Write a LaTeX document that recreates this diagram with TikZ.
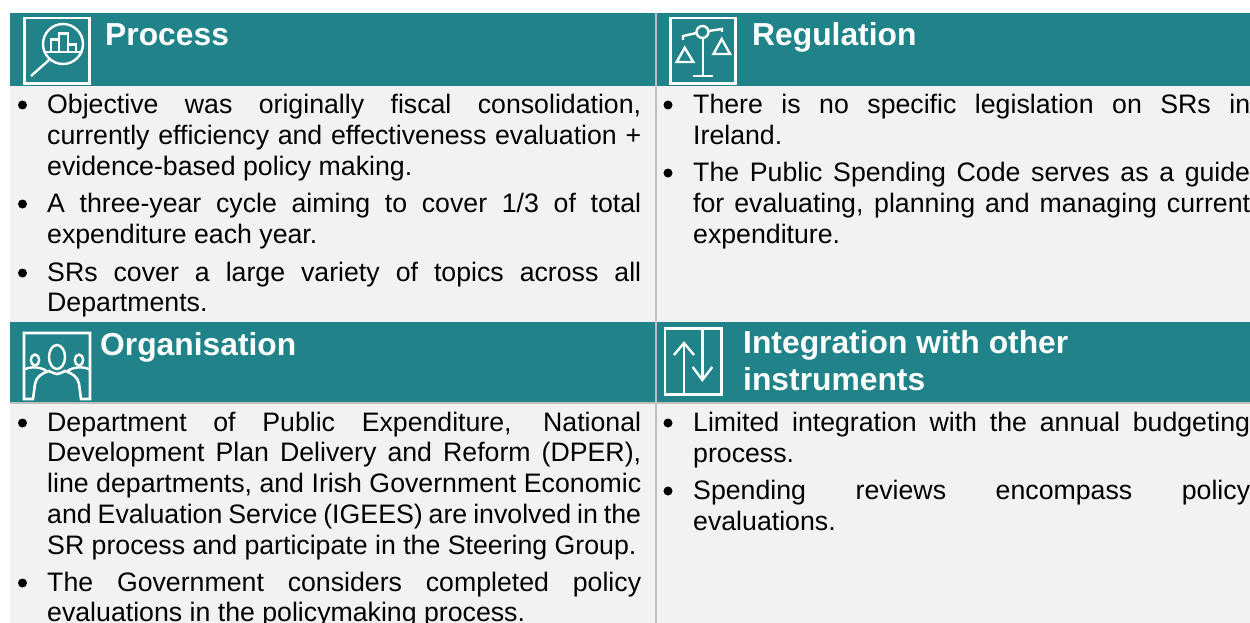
\documentclass[tikz,border=0pt]{standalone}
\usepackage{fontspec}
\setmainfont{Liberation Sans}
\definecolor{teal1}{HTML}{1F8389}
\definecolor{panel}{HTML}{F2F2F2}
\definecolor{rulegrey}{HTML}{BFBFBF}
\newcommand{\bodyfont}{\fontsize{26.7}{30.8}\selectfont}
\newcommand{\titlefont}{\fontsize{31.8}{37}\selectfont\bfseries}
\newcommand{\parL}[1]{\parbox[t]{594pt}{\bodyfont\hbadness=10000\hfuzz=20pt #1}}
\newcommand{\parR}[1]{\parbox[t]{557pt}{\bodyfont\hbadness=10000\hfuzz=20pt #1}}
\tikzset{
  x=1pt,y=-1pt,
  body/.style={anchor=base west,inner sep=0pt,text=black},
  title/.style={anchor=base west,inner sep=0pt,text=white,font=\titlefont},
  bul/.style={fill=black,draw=none},
  ico/.style={draw=white,line width=2.4pt,line join=miter},
  icof/.style={draw=white,line width=2.8pt}
}
\begin{document}
\begin{tikzpicture}
\useasboundingbox (0,0) rectangle (1250,623);
\fill[white] (0,0) rectangle (1250,623);
% panels
\fill[panel] (10,85) rectangle (1250,623);
\fill[teal1] (10,13) rectangle (1250,86);
\fill[teal1] (10,322) rectangle (1250,402);
\fill[rulegrey] (10,402) rectangle (1250,404);
\fill[rulegrey] (655,13) rectangle (657,623);
% Process icon
\draw[icof] (24.3,18) rectangle (89.7,83.5);
\draw[ico] (63,44) circle (20);
\draw[ico] (49,60) -- (31,76);
\draw[ico] (44,52) -- (83,52);
\draw[ico] (51,52) -- (51,39.5) -- (59,39.5) -- (59,52);
\draw[ico] (59,52) -- (59,33.5) -- (68,33.5) -- (68,52);
\draw[ico] (68,52) -- (68,44.5) -- (76,44.5) -- (76,52);
% Regulation icon
\draw[icof] (670.3,18) rectangle (735.7,83.5);
\draw[ico] (702.5,32) circle (6);
\draw[ico] (696.5,33) -- (683,36) -- (683,40);
\draw[ico] (708.5,31) -- (722,29) -- (722,32);
\draw[ico] (702.7,38) -- (702.7,76);
\draw[ico] (692.7,76) -- (713,76);
\draw[ico] (684.7,47.7) -- (676.7,62) -- (693.3,62) -- cycle;
\draw[ico] (721.7,39) -- (713.5,54) -- (730,54) -- cycle;
% Organisation icon
\draw[ico,line width=2.6pt] (24,399) -- (24,333) -- (90,333) -- (90,399) -- (81,399) -- (79,384) .. controls (78,377) and (72,373) .. (65,371)
  .. controls (62,372) and (60,374) .. (57,374) .. controls (54,374) and (52,372) .. (49,371)
  .. controls (42,373) and (36,377) .. (35,384) -- (33,399) -- cycle;
\draw[ico] (24,369.5) .. controls (29,367) and (35,367) .. (40,368) .. controls (43,369) and (46,370) .. (48,372);
\draw[ico] (90,369.5) .. controls (85,367) and (79,367) .. (74,368) .. controls (71,369) and (68,370) .. (66,372);
\draw[ico] (57,357) ellipse (8 and 12);
\draw[ico] (35,360) ellipse (4.2 and 5.5);
\draw[ico] (79,360) ellipse (4.2 and 5.5);
% Integration icon
\draw[icof] (665,328.5) rectangle (721.5,394.5);
\draw[ico] (684,394.5) -- (684,343);
\draw[ico] (674,355) -- (684,343) -- (694,355);
\draw[ico] (702.3,328.5) -- (702.3,380);
\draw[ico] (692.7,367) -- (702.3,380) -- (712.3,367);
% titles
\node[title] (tProcess) at (105,46) {Process};
\node[title] (tRegulation) at (752,46) {Regulation};
\node[title] (tOrganisation) at (100,355.5) {Organisation};
\node[title] (tIntegration) at (743,353.5) {Integration with other};
\node[title] (tInstruments) at (743,390.5) {instruments};
% bullets
\foreach \bx/\by in {22.5/105,22.5/204,22.5/273,22.5/423,22.5/583,668/105,668/173,668/423,668/491}
  \fill[bul] (\bx,\by) circle (4.5);
% left top
\node[body] (p1) at (47,113.5) {\parL{Objective was originally fiscal consolidation,\linebreak currently efficiency and effectiveness evaluation +\linebreak evidence-based policy making.}};
\node[body] (p2) at (47,212.4) {\parL{A three-year cycle aiming to cover 1/3 of total\linebreak expenditure each year.}};
\node[body] (p3) at (47,281) {\parL{SRs cover a large variety of topics across all\linebreak Departments.}};
% right top
\node[body] (r1) at (693,113.5) {\parR{There is no specific legislation on SRs in\linebreak Ireland.}};
\node[body] (r2) at (693,181.4) {\parR{The Public Spending Code serves as a guide\linebreak for evaluating, planning and managing current\linebreak expenditure.}};
% left bottom
\node[body] (o1) at (47,431) {\parL{Department of Public Expenditure, National\linebreak Development Plan Delivery and Reform (DPER),\linebreak line departments, and Irish Government Economic\linebreak and Evaluation Service (IGEES) are involved in the\linebreak SR process and participate in the Steering Group.}};
\node[body] (o2) at (47,591) {\parL{The Government considers completed policy\linebreak evaluations in the policymaking process.}};
% right bottom
\node[body] (i1) at (693,431.4) {\parR{Limited integration with the annual budgeting\linebreak process.}};
\node[body] (i2) at (693,499.4) {\parR{Spending reviews encompass policy\linebreak evaluations.}};
\end{tikzpicture}
\end{document}
